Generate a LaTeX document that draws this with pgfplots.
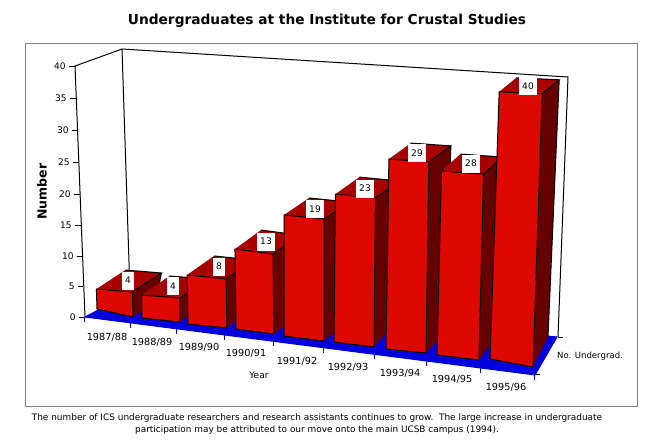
\documentclass[border=0pt]{standalone}
\usepackage{fontspec}
\setmainfont{DejaVu Sans}
\usepackage{pgfplots}
\usepackage{pgfplotstable}
\pgfplotsset{compat=1.18}

\definecolor{barfront}{HTML}{DD0800}
\definecolor{bartop}{HTML}{A80000}
\definecolor{barside}{HTML}{660000}
\definecolor{floorblue}{HTML}{0000DD}

\tikzset{
  face/.style={draw=black,line width=0.75pt,line join=round},
  thin line/.style={draw=black,line width=0.75pt},
  lab/.style={inner sep=0pt,font=\fontsize{6.8pt}{8pt}\selectfont},
  catlab/.style={inner sep=0pt,font=\fontsize{7.3pt}{8pt}\selectfont},
}

% v = students; the rest is where the perspective puts each bar, in pixels
\pgfplotstableread{
v  xl  yl  xr  yr  kl   kr   ln    dx dy  dxb dyb lx  ly
4  97  309 133 317 5.00 6.25 -0.15 29 -19 23  -16 128 280.5
4  142 318 180 322 5.75 6.00 -0.12 28 -19 22  -17 173 286
8  188 324 227 328 6.13 6.13 -0.12 27 -19 22  -19 219 266.5
13 236 329 274 334 6.15 6.15 -0.08 26 -19 21  -16 266 241.5
19 284 336 324 341 6.37 6.42 0.00  25 -17 20  -17 315 209
23 334 342 374 347 6.43 6.48 0.06  24 -17 19  -21 365 188.5
29 386 349 426 353 6.55 6.59 0.10  22 -16 18  -20 417 153
28 437 355 479 360 6.57 6.64 0.16  19 -17 15  -20 471 163.5
40 490 359 533 367 6.68 6.83 0.23  17 -14 15  -30 528 86
}\bars

\begin{document}
\begin{tikzpicture}
\begin{axis}[
  scale only axis,
  width=489.75pt,
  height=332.25pt,
  xmin=0, xmax=653,
  ymin=0, ymax=443,
  y dir=reverse,
  hide axis,
  no markers,
]
% page and frame
\addplot[fill=white,draw=none] coordinates {(0,0)(653,0)(653,443)(0,443)} --cycle;
\addplot[draw=gray,fill=white,line width=0.75pt] coordinates {(25,43)(637,43)(637,406)(25,406)} --cycle;

% walls
\addplot[thin line] coordinates {(85,317)(75,66)(122,49)(568,77)(558,337)};
\addplot[thin line] coordinates {(122,49)(130,293)};

% floor
\addplot[fill=floorblue,draw=floorblue,line width=0.75pt] coordinates {(85,317)(535,375)(557,337)(130,293)} --cycle;

% value axis ticks
\addplot[thin line] coordinates {(69,66)(75,66)};
\addplot[thin line] coordinates {(70,98)(76,98)};
\addplot[thin line] coordinates {(72,130)(77,130)};
\addplot[thin line] coordinates {(73,162)(79,162)};
\addplot[thin line] coordinates {(74,194)(80,194)};
\addplot[thin line] coordinates {(75,225)(81,225)};
\addplot[thin line] coordinates {(77,256)(82,256)};
\addplot[thin line] coordinates {(78,286)(83,286)};
\addplot[thin line] coordinates {(79,317)(85,317)};
\node[lab,anchor=east] at (axis cs:66,66) {40};
\node[lab,anchor=east] at (axis cs:67,98) {35};
\node[lab,anchor=east] at (axis cs:69,130) {30};
\node[lab,anchor=east] at (axis cs:70,162) {25};
\node[lab,anchor=east] at (axis cs:71,194) {20};
\node[lab,anchor=east] at (axis cs:72,225) {15};
\node[lab,anchor=east] at (axis cs:74,256) {10};
\node[lab,anchor=east] at (axis cs:75,286) {5};
\node[lab,anchor=east] at (axis cs:76,317) {0};

% category ticks on the front edge of the floor
\addplot[draw=floorblue,line width=0.75pt] coordinates {(84,317)(84,322)};
\addplot[draw=floorblue,line width=0.75pt] coordinates {(130,323)(130,328)};
\addplot[draw=floorblue,line width=0.75pt] coordinates {(176,329)(176,334)};
\addplot[draw=floorblue,line width=0.75pt] coordinates {(224,335)(224,340)};
\addplot[draw=floorblue,line width=0.75pt] coordinates {(273,341)(273,346)};
\addplot[draw=floorblue,line width=0.75pt] coordinates {(323,348)(323,353)};
\addplot[draw=floorblue,line width=0.75pt] coordinates {(374,354)(374,359)};
\addplot[draw=floorblue,line width=0.75pt] coordinates {(426,361)(426,366)};
\addplot[draw=floorblue,line width=0.75pt] coordinates {(480,368)(480,373)};
\addplot[draw=floorblue,line width=0.75pt] coordinates {(534,375)(534,380)};
\addplot[thin line] coordinates {(535,374)(540,374)};
\addplot[thin line] coordinates {(558,337)(563,337)};

% bars, left to right so each one covers the side of the one before
\foreach \i in {0,...,8} {
  \pgfplotstablegetelem{\i}{v}\of\bars \let\vv\pgfplotsretval
  \pgfplotstablegetelem{\i}{xl}\of\bars \let\xl\pgfplotsretval
  \pgfplotstablegetelem{\i}{yl}\of\bars \let\yl\pgfplotsretval
  \pgfplotstablegetelem{\i}{xr}\of\bars \let\xr\pgfplotsretval
  \pgfplotstablegetelem{\i}{yr}\of\bars \let\yr\pgfplotsretval
  \pgfplotstablegetelem{\i}{kl}\of\bars \let\kl\pgfplotsretval
  \pgfplotstablegetelem{\i}{kr}\of\bars \let\kr\pgfplotsretval
  \pgfplotstablegetelem{\i}{ln}\of\bars \let\lean\pgfplotsretval
  \pgfplotstablegetelem{\i}{dx}\of\bars \let\ddx\pgfplotsretval
  \pgfplotstablegetelem{\i}{dy}\of\bars \let\ddy\pgfplotsretval
  \pgfplotstablegetelem{\i}{dxb}\of\bars \let\dxb\pgfplotsretval
  \pgfplotstablegetelem{\i}{dyb}\of\bars \let\dyb\pgfplotsretval
  \pgfplotstablegetelem{\i}{lx}\of\bars \let\lx\pgfplotsretval
  \pgfplotstablegetelem{\i}{ly}\of\bars \let\ly\pgfplotsretval
  \pgfmathsetmacro\xlt{\xl+\lean*\vv}
  \pgfmathsetmacro\ylt{\yl-\kl*\vv}
  \pgfmathsetmacro\xrt{\xr+\lean*\vv}
  \pgfmathsetmacro\yrt{\yr-\kr*\vv}
  \pgfmathsetmacro\xbl{\xlt+\ddx}
  \pgfmathsetmacro\ybl{\ylt+\ddy}
  \pgfmathsetmacro\xbr{\xrt+\ddx}
  \pgfmathsetmacro\ybr{\yrt+\ddy}
  \pgfmathsetmacro\xbb{\xr+\dxb}
  \pgfmathsetmacro\ybb{\yr+\dyb}
  \pgfmathsetmacro\lhw{\vv<10 ? 6 : 9}
  \pgfmathsetmacro\lxa{\lx-\lhw}
  \pgfmathsetmacro\lxb{\lx+\lhw}
  \pgfmathsetmacro\lya{\ly-9}
  \pgfmathsetmacro\lyb{\ly+9}
  \edef\tmp{
    \noexpand\addplot[fill=barside,draw=none] coordinates {(\xrt,\yrt)(\xbr,\ybr)(\xbb,\ybb)(\xr,\yr)} --cycle;
    \noexpand\addplot[thin line] coordinates {(\xbb,\ybb)(\xbr,\ybr)};
    \noexpand\addplot[fill=bartop,draw=none] coordinates {(\xlt,\ylt)(\xrt,\yrt)(\xbr,\ybr)(\xbl,\ybl)} --cycle;
    \noexpand\addplot[thin line] coordinates {(\xrt,\yrt)(\xbr,\ybr)(\xbl,\ybl)};
    \noexpand\addplot[face,fill=barfront] coordinates {(\xl,\yl)(\xr,\yr)(\xrt,\yrt)(\xlt,\ylt)} --cycle;
    \noexpand\addplot[fill=white,draw=none] coordinates {(\lxa,\lya)(\lxb,\lya)(\lxb,\lyb)(\lxa,\lyb)} --cycle;
    \noexpand\node[lab] at (axis cs:\lx,\ly) {\vv};
  }
  \tmp
}

% category names
\node[catlab] at (axis cs:107,337) {1987/88};
\node[catlab] at (axis cs:152,342) {1988/89};
\node[catlab] at (axis cs:199,347) {1989/90};
\node[catlab] at (axis cs:246,353) {1990/91};
\node[catlab] at (axis cs:297,361) {1991/92};
\node[catlab] at (axis cs:348,367) {1992/93};
\node[catlab] at (axis cs:400,373) {1993/94};
\node[catlab] at (axis cs:452,379) {1994/95};
\node[catlab] at (axis cs:506,387) {1995/96};
\node[lab] at (axis cs:259,375) {Year};
\node[inner sep=0pt,font=\fontsize{6.4pt}{8pt}\selectfont] at (axis cs:590,356) {No. Undergrad.};

% titles
\node[inner sep=0pt,font=\fontsize{10.3pt}{12pt}\bfseries\selectfont] at (axis cs:327,21) {Undergraduates at the Institute for Crustal Studies};
\node[inner sep=0pt,rotate=90,font=\fontsize{9.4pt}{11pt}\bfseries\selectfont] at (axis cs:42,191.5) {Number};
\node[inner sep=0pt,font=\fontsize{6.7pt}{9pt}\selectfont,align=center] at (axis cs:317,424) {The number of ICS undergraduate researchers and research assistants continues to grow.\ \ The large increase in undergraduate\\participation may be attributed to our move onto the main UCSB campus (1994).};
\end{axis}
\end{tikzpicture}
\end{document}
